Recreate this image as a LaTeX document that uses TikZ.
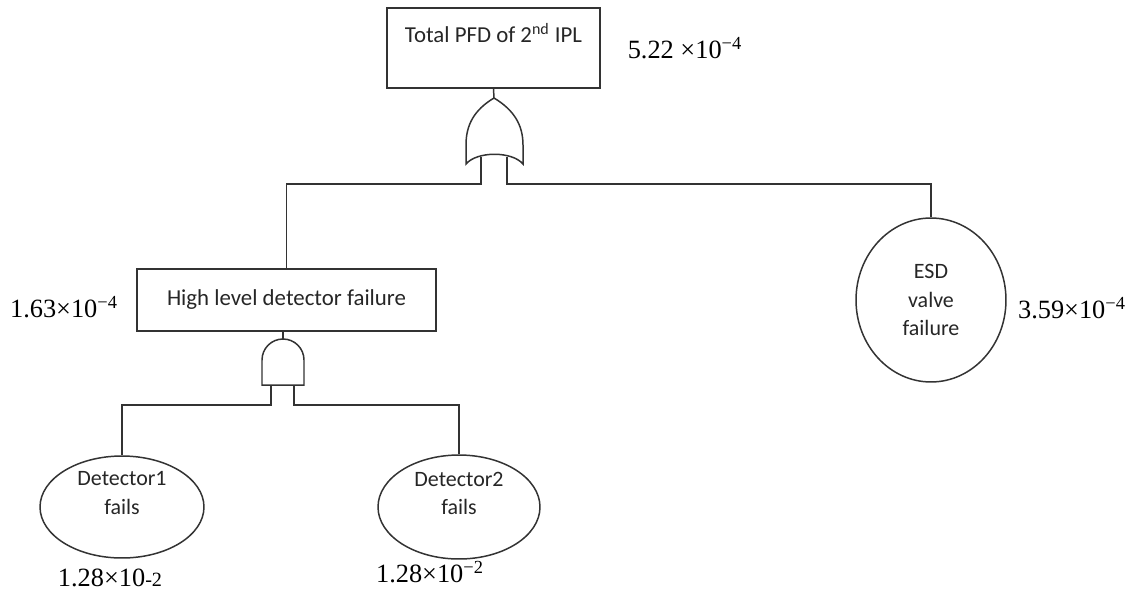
\documentclass[tikz,border=0pt]{standalone}
\usepackage{fontspec}
\setmainfont{Liberation Serif}
\setsansfont{Carlito}
\usetikzlibrary{shapes,positioning}

\begin{document}
\begin{tikzpicture}[x=0.02cm, y=-0.02cm, line width=0.85pt, draw=black!80,
    eventbox/.style={draw, rectangle, inner sep=0pt, text=black!85, font=\sffamily\fontsize{13}{16}\selectfont},
    basic/.style={draw, ellipse, inner sep=0pt, align=center, text=black!85, font=\sffamily\fontsize{12.5}{16}\selectfont},
    prob/.style={inner sep=1pt, font=\fontsize{15}{18}\selectfont}]
        \useasboundingbox (0,0) rectangle (1133,599);

        % Events
        \node[eventbox, minimum width=4.26cm, minimum height=1.6cm,
              label={[anchor=north, yshift=-0.2cm, text=black!85, font=\sffamily\fontsize{13}{16}\selectfont]north:Total PFD of 2\textsuperscript{nd} IPL}] (top) at (493.5,48) {};
        \node[eventbox, minimum width=5.98cm, minimum height=1.24cm] (hld) at (286.5,300) {\raisebox{3pt}{High level detector failure}};
        \node[basic, minimum width=3.28cm, minimum height=2.04cm,
              label={[align=center, yshift=0.28cm, text=black!85, font=\sffamily\fontsize{12.5}{16}\selectfont]center:Detector1\\fails}] (d1) at (122,507) {};
        \node[basic, minimum width=3.24cm, minimum height=2.08cm,
              label={[align=center, yshift=0.28cm, text=black!85, font=\sffamily\fontsize{12.5}{16}\selectfont]center:Detector2\\fails}] (d2) at (459,507) {};
        \node[basic, minimum width=3cm, minimum height=3.28cm] (esd) at (931,300) {ESD\\valve\\failure};

        % Probabilities
        \node[prob] (ptop) at (685,48) {5.22 ×10\textsuperscript{−4}};
        \node[prob] (phld) at (64,307) {1.63×10\textsuperscript{−4}};
        \node[prob] (pesd) at (1072,308) {3.59×10\textsuperscript{−4}};
        \node[prob] (pd1) at (110,578) {1.28×10{\fontsize{11.5}{13}\selectfont -2}};
        \node[prob] (pd2) at (430,572) {1.28×10\textsuperscript{−2}};

        % OR gate
        \coordinate (ortip) at (494,98);
        \coordinate (orin1) at (481,157);
        \coordinate (orin2) at (507,157);
        \coordinate (orleg1) at (481,184);
        \coordinate (orleg2) at (507,184);
        \draw[fill=white] (ortip) .. controls (474,110) and (466,125) .. (466,145) -- (466,164)
              .. controls (477,151) and (512,151) .. (523,164) -- (523,145)
              .. controls (523,125) and (514,110) .. (ortip);

        % AND gate
        \coordinate (andtip) at (283,339);
        \coordinate (andin1) at (271,385);
        \coordinate (andin2) at (294,385);
        \coordinate (andleg1) at (271,405);
        \coordinate (andleg2) at (294,405);
        \draw (262,385) -- (262,360) arc[start angle=180, end angle=360, radius=21] -- (304,385) -- cycle;

        % Connections
        \draw (top.south) -- (ortip);
        \draw (hld.north) |- (orleg1) -- (orin1);
        \draw (esd.north) |- (orleg2) -- (orin2);
        \draw (andtip |- hld.south) -- (andtip);
        \draw (d1.north) |- (andleg1) -- (andin1);
        \draw (d2.north) |- (andleg2) -- (andin2);
    \end{tikzpicture}
\end{document}
